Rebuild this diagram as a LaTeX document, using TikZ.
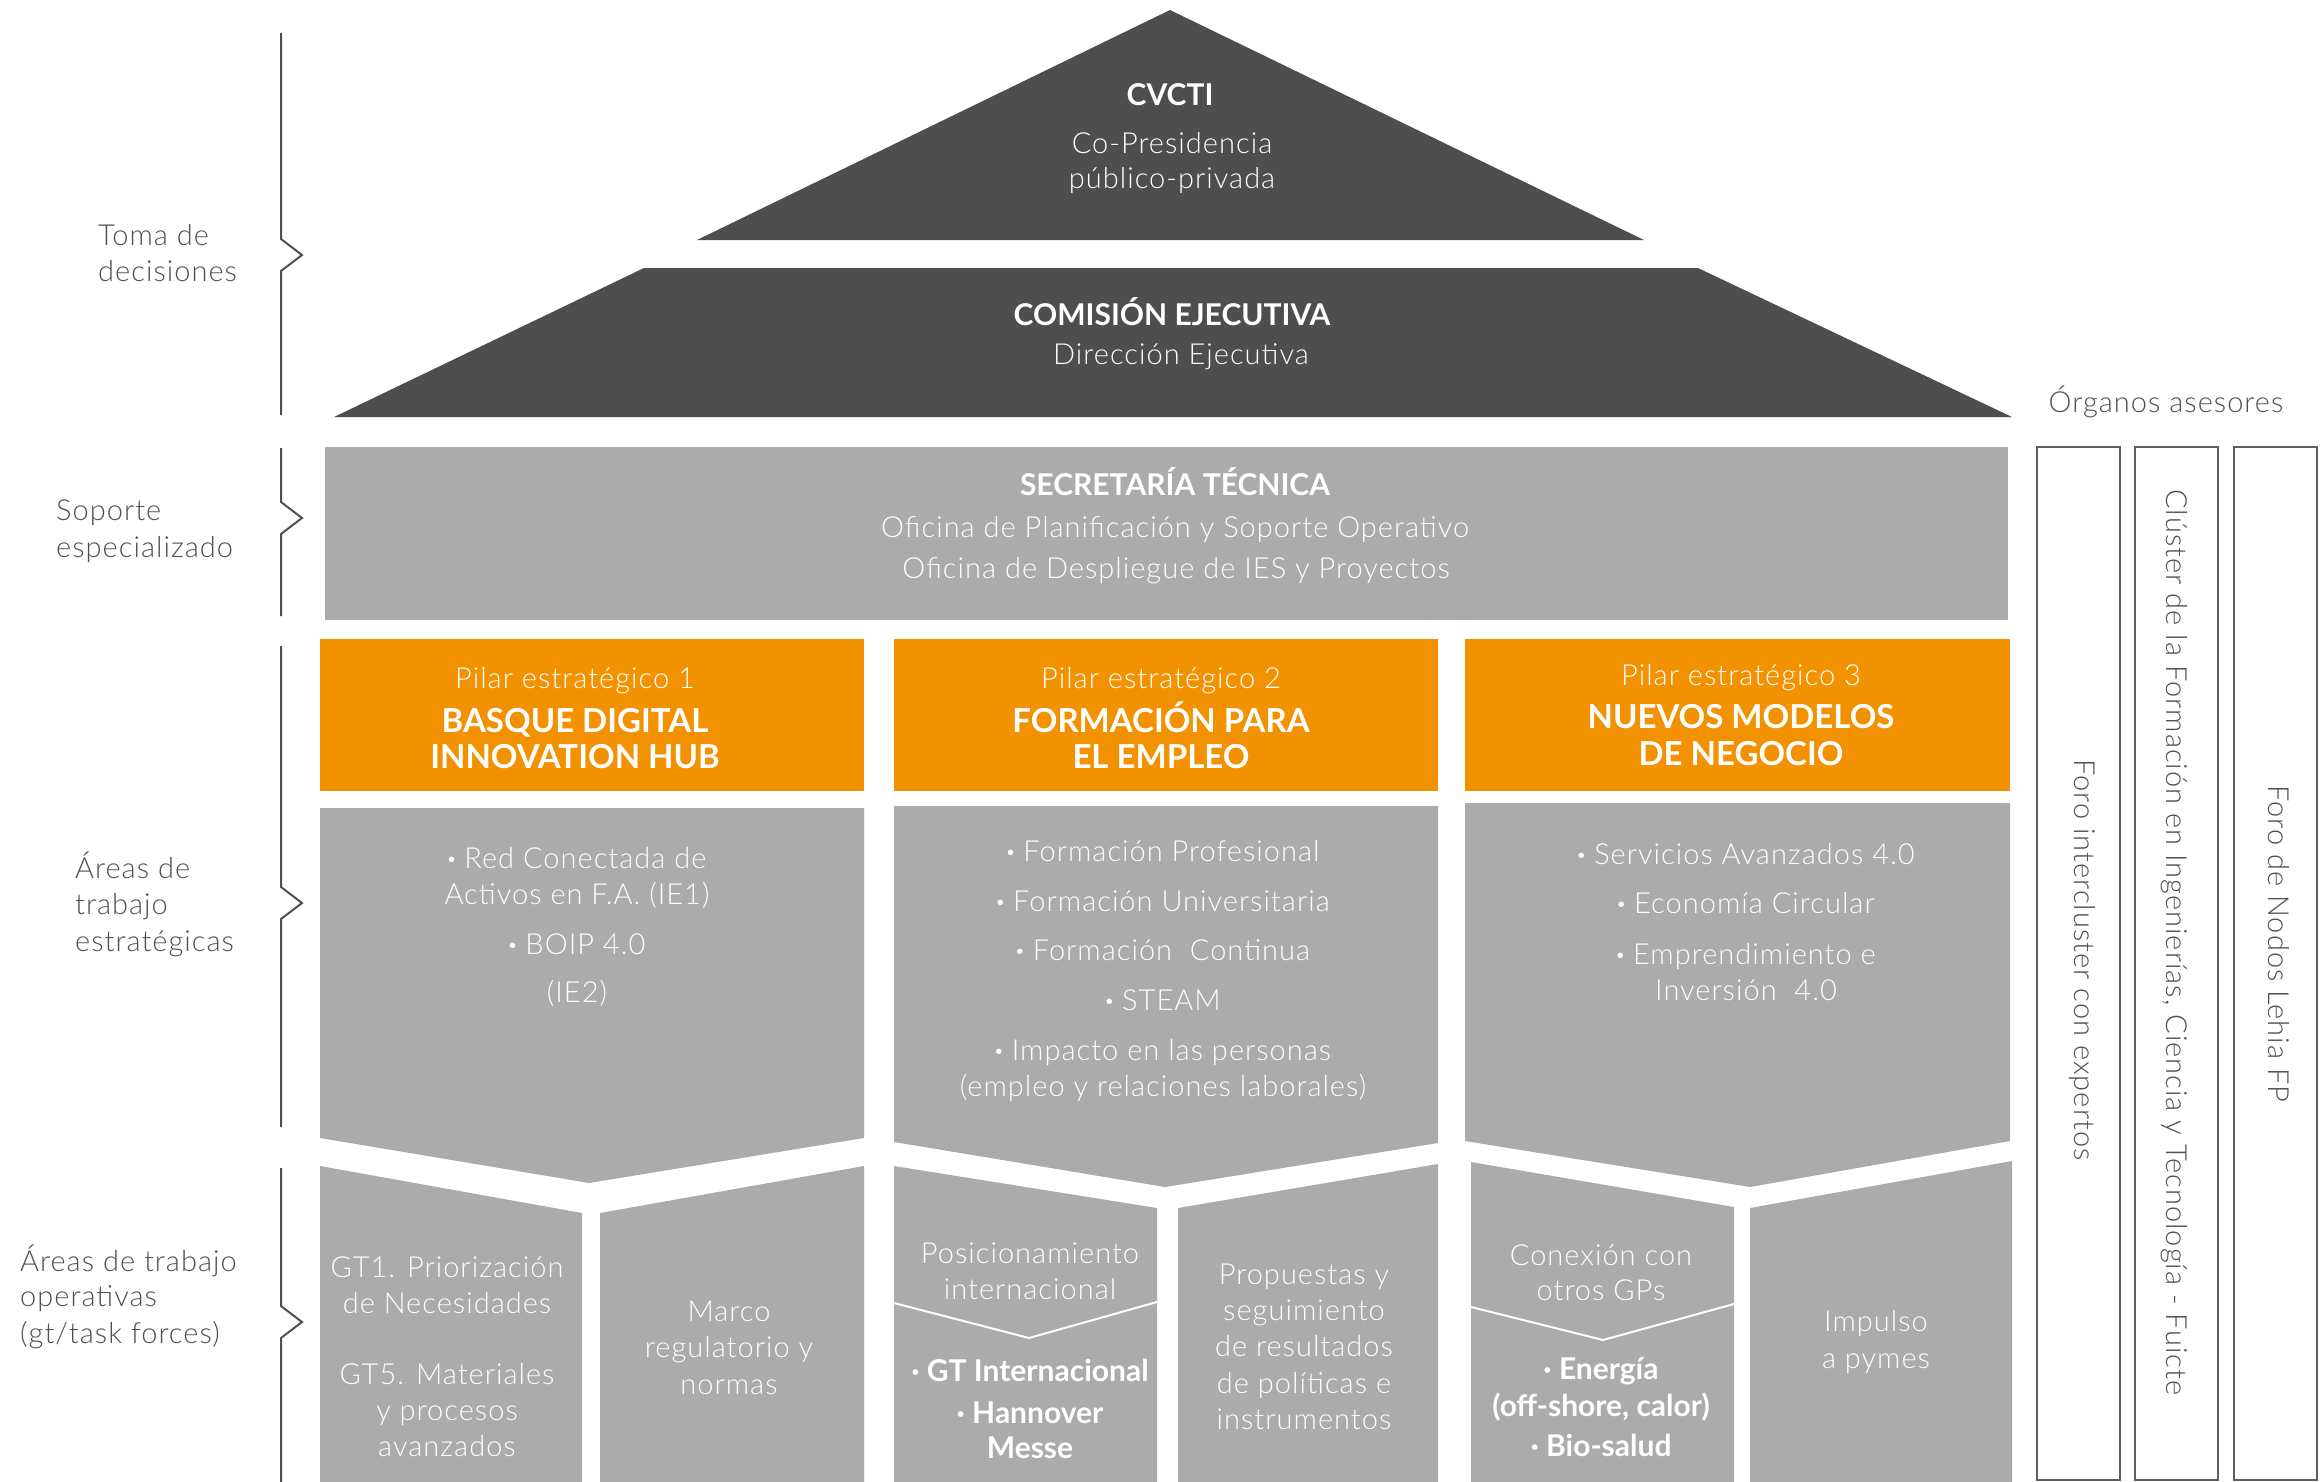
\documentclass[tikz,border=0pt]{standalone}
\usepackage{fontspec}
\setmainfont{Lato}
\IfFontExistsTF{Lato Light}{\newfontfamily\ltf{Lato Light}[LetterSpace=3.5]}{\newfontfamily\ltf{Lato}[LetterSpace=3.5]}
\newcommand\blt{{\normalfont\bfseries ·}}
\definecolor{roof}{RGB}{78,78,78}
\definecolor{box}{RGB}{171,171,171}
\definecolor{pillar}{RGB}{243,146,0}
\definecolor{lblgray}{RGB}{80,80,80}
\definecolor{frame}{RGB}{95,95,95}
\begin{document}
\begin{tikzpicture}[x=1pt,y=-1pt,
  txt/.style={anchor=base, inner sep=0, font=\ltf\fontsize{29}{36}\selectfont, text=white},
  btxt/.style={anchor=base, inner sep=0, font=\normalfont\bfseries\fontsize{30}{36}\selectfont, text=white},
  ptxt/.style={anchor=base, inner sep=0, font=\normalfont\bfseries\fontsize{33}{36}\selectfont, text=white},
  lbl/.style={anchor=base west, inner sep=0, font=\ltf\fontsize{29}{36}\selectfont, text=lblgray},
  vtxt/.style={anchor=center, inner sep=0, rotate=-90, font=\ltf\fontsize{29}{36}\selectfont, text=lblgray},
  roofshape/.style={fill=roof},
  grayshape/.style={fill=box},
  pillarshape/.style={fill=pillar},
  brace/.style={draw=lblgray, line width=2pt},
  vline/.style={draw=white, line width=2pt},
  advbox/.style={draw=frame, line width=2.5pt, fill=white}]
\useasboundingbox (0,0) rectangle (2320,1482);
\fill[white] (0,0) rectangle (2320,1482);

% roof
\path[roofshape] (1170,10) -- (1644,240) -- (697,240) -- cycle;
\path[roofshape] (644,268) -- (1698,268) -- (2012,417) -- (334,417) -- cycle;
% secretaria
\path[grayshape] (325,447) rectangle (2008,620);
% pillars
\path[pillarshape] (320,639) rectangle (864,791);
\path[pillarshape] (894,639) rectangle (1438,791);
\path[pillarshape] (1465,639) rectangle (2010,791);
% strategic areas
\path[grayshape] (320,808) -- (864,808) -- (864,1138) -- (589,1183) -- (320,1138) -- cycle;
\path[grayshape] (894,806) -- (1438,806) -- (1438,1143) -- (1165,1187) -- (894,1142) -- cycle;
\path[grayshape] (1465,803) -- (2010,803) -- (2010,1141) -- (1750,1187) -- (1465,1141) -- cycle;
% operative areas
\path[grayshape] (320,1166) -- (582,1213) -- (582,1482) -- (320,1482) -- cycle;
\path[grayshape] (600,1213) -- (864,1166) -- (864,1482) -- (600,1482) -- cycle;
\path[grayshape] (894,1166) -- (1157,1208) -- (1157,1482) -- (894,1482) -- cycle;
\path[grayshape] (1178,1208) -- (1438,1164) -- (1438,1482) -- (1178,1482) -- cycle;
\path[grayshape] (1471,1162) -- (1734,1207) -- (1734,1482) -- (1471,1482) -- cycle;
\path[grayshape] (1750,1208) -- (2012,1161) -- (2012,1482) -- (1750,1482) -- cycle;
\path[vline] (894,1303) -- (1029,1338) -- (1157,1302);
\path[vline] (1471,1307) -- (1603,1340) -- (1734,1304);

% advisory boxes
\path[advbox] (2037,447) rectangle (2120,1480);
\path[advbox] (2135,447) rectangle (2218,1480);
\path[advbox] (2234,447) rectangle (2317,1480);

% brackets
\path[brace] (281,33) -- (281,239) -- (302,255) -- (281,271) -- (281,415);
\path[brace] (281,448) -- (281,502) -- (302,518) -- (281,534) -- (281,616);
\path[brace] (281,646) -- (281,887) -- (302,903) -- (281,919) -- (281,1127);
\path[brace] (281,1168) -- (281,1306) -- (302,1322) -- (281,1338) -- (281,1482);

% left labels
\node[lbl] (l1a) at (98,245) {Toma de};
\node[lbl] (l1b) at (98,281) {decisiones};
\node[lbl] (l2a) at (56,520) {Soporte};
\node[lbl] (l2b) at (56,557) {especializado};
\node[lbl] (l3a) at (75,878) {Áreas de};
\node[lbl] (l3b) at (75,914) {trabajo};
\node[lbl] (l3c) at (75,951) {estratégicas};
\node[lbl] (l4a) at (20,1271) {Áreas de trabajo};
\node[lbl] (l4b) at (20,1306) {operativas};
\node[lbl] (l4c) at (20,1343) {(gt/task forces)};

% roof texts
\node[btxt] (cvcti) at (1170,106) {CVCTI};
\node[txt] (cop1) at (1172,154) {Co-Presidencia};
\node[txt] (cop2) at (1172,189) {público-privada};
\node[btxt] (com) at (1172,325) {COMISIÓN EJECUTIVA};
\node[txt] (dir) at (1181,364) {Dirección Ejecutiva};
\node[btxt] (sec) at (1175,495) {SECRETARÍA TÉCNICA};
\node[txt] (of1) at (1175,537) {Oficina de Planificación y Soporte Operativo};
\node[txt] (of2) at (1176,578) {Oficina de Despliegue de IES y Proyectos};

% pillar texts
\node[txt] (p1a) at (575,688) {Pilar estratégico 1};
\node[ptxt] (p1b) at (575,732) {BASQUE DIGITAL};
\node[ptxt] (p1c) at (575,768) {INNOVATION HUB};
\node[txt] (p2a) at (1161,688) {Pilar estratégico 2};
\node[ptxt] (p2b) at (1161,732) {FORMACIÓN PARA};
\node[ptxt] (p2c) at (1161,768) {EL EMPLEO};
\node[txt] (p3a) at (1741,685) {Pilar estratégico 3};
\node[ptxt] (p3b) at (1741,728) {NUEVOS MODELOS};
\node[ptxt] (p3c) at (1741,765) {DE NEGOCIO};

% strategic area texts
\node[txt] (s1a) at (577,868) {\blt\ Red Conectada de};
\node[txt] (s1b) at (577,904) {Activos en F.A. (IE1)};
\node[txt] (s1c) at (577,954) {\blt\ BOIP 4.0};
\node[txt] (s1d) at (577,1002) {(IE2)};
\node[txt] (s2a) at (1163,861) {\blt\ Formación Profesional};
\node[txt] (s2b) at (1163,911) {\blt\ Formación Universitaria};
\node[txt] (s2c) at (1163,960) {\blt\ Formación~ Continua};
\node[txt] (s2d) at (1163,1010) {\blt\ STEAM};
\node[txt] (s2e) at (1163,1060) {\blt\ Impacto en las personas};
\node[txt] (s2f) at (1163,1096) {(empleo y relaciones laborales)};
\node[txt] (s3a) at (1746,864) {\blt\ Servicios Avanzados 4.0};
\node[txt] (s3b) at (1746,913) {\blt\ Economía Circular};
\node[txt] (s3c) at (1746,964) {\blt\ Emprendimiento e};
\node[txt] (s3d) at (1746,1000) {Inversión~ 4.0};

% operative area texts
\node[txt] (o1a) at (447,1277) {GT1. Priorización};
\node[txt] (o1b) at (447,1313) {de Necesidades};
\node[txt] (o1c) at (447,1384) {GT5. Materiales};
\node[txt] (o1d) at (447,1420) {y procesos};
\node[txt] (o1e) at (447,1456) {avanzados};
\node[txt] (o2a) at (729,1321) {Marco};
\node[txt] (o2b) at (729,1357) {regulatorio y};
\node[txt] (o2c) at (729,1394) {normas};
\node[txt] (o3a) at (1030,1263) {Posicionamiento};
\node[txt] (o3b) at (1030,1299) {internacional};
\node[btxt] (o3c) at (1030,1381) {· GT Internacional};
\node[btxt] (o3d) at (1030,1423) {· Hannover};
\node[btxt] (o3e) at (1030,1458) {Messe};
\node[txt] (o4a) at (1304,1284) {Propuestas y};
\node[txt] (o4b) at (1304,1320) {seguimiento};
\node[txt] (o4c) at (1304,1356) {de resultados};
\node[txt] (o4d) at (1304,1393) {de políticas e};
\node[txt] (o4e) at (1304,1429) {instrumentos};
\node[txt] (o5a) at (1601,1265) {Conexión con};
\node[txt] (o5b) at (1601,1300) {otros GPs};
\node[btxt] (o5c) at (1601,1379) {· Energía};
\node[btxt] (o5d) at (1601,1416) {(off-shore, calor)};
\node[btxt] (o5e) at (1601,1456) {· Bio-salud};
\node[txt] (o6a) at (1876,1331) {Impulso};
\node[txt] (o6b) at (1876,1368) {a pymes};

% advisory
\node[lbl, anchor=base] (org) at (2166,412) {Órganos asesores};
\node[vtxt] (adv1) at (2082,960) {Foro intercluster con expertos};
\node[vtxt] (adv2) at (2174,942) {Clúster de la Formación en Ingenierías, Ciencia y Tecnología - Fuicte};
\node[vtxt] (adv3) at (2279,944) {Foro de Nodos Lehia FP};
\end{tikzpicture}
\end{document}
